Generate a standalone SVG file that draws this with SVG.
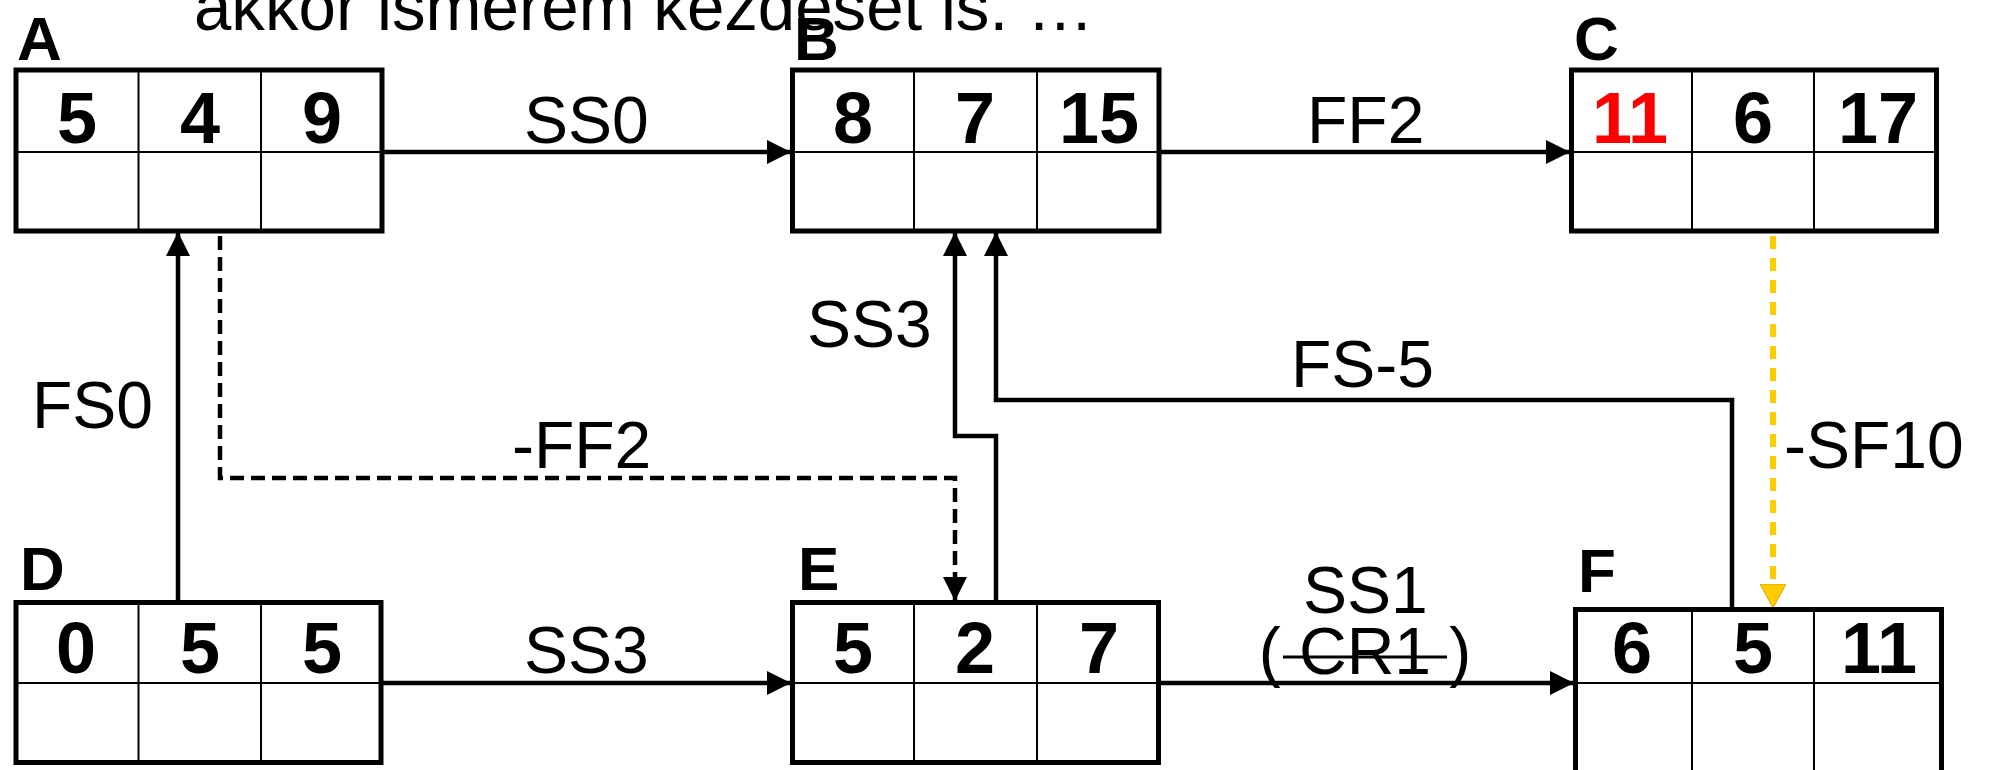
<svg xmlns="http://www.w3.org/2000/svg" width="1990" height="770" viewBox="0 0 1990 770">
<style>
.box{fill:#fff;stroke:#000;stroke-width:5}
.in{stroke:#000;stroke-width:2;fill:none}
.num{font-family:"Liberation Sans",Arial,sans-serif;font-weight:bold;font-size:72px;text-anchor:middle;fill:#000}
.id{font-family:"Liberation Sans",Arial,sans-serif;font-weight:bold;font-size:62px;fill:#000}
.lbl{font-family:"Liberation Sans",Arial,sans-serif;font-size:66px;fill:#000}
.title{font-family:"Liberation Sans",Arial,sans-serif;font-size:68px;fill:#000}
.con{fill:none;stroke:#000;stroke-width:4.5}
.dash{fill:none;stroke:#000;stroke-width:4.5;stroke-dasharray:14 7}
.ydash{fill:none;stroke:#FFCC00;stroke-width:6;stroke-dasharray:13 9}
</style>
<defs>
<marker id="ah" markerUnits="userSpaceOnUse" markerWidth="24" markerHeight="24" viewBox="0 0 24 24" refX="23" refY="12" orient="auto">
<path d="M0,0 L24,12 L0,24 Z" fill="#000"/>
</marker>
<marker id="ahy" markerUnits="userSpaceOnUse" markerWidth="24" markerHeight="26" viewBox="0 0 24 26" refX="23" refY="13" orient="auto">
<path d="M0,0 L24,13 L0,26 Z" fill="#FFCC00" stroke="#D4A800" stroke-width="1"/>
</marker>
</defs>
<rect width="1990" height="770" fill="#fff"/>
<text class="title" x="194" y="30" textLength="900" lengthAdjust="spacingAndGlyphs">akkor ismerem kezdését is. …</text>

<g id="connectors">
<line class="con" x1="384" y1="152" x2="790" y2="152" marker-end="url(#ah)"/>
<text class="lbl" x="524" y="143">SS0</text>
<line class="con" x1="1161" y1="152" x2="1569" y2="152" marker-end="url(#ah)"/>
<text class="lbl" x="1307" y="143">FF2</text>
<line class="con" x1="178" y1="600" x2="178" y2="233" marker-end="url(#ah)"/>
<text class="lbl" x="32" y="428">FS0</text>
<path class="dash" d="M220,236 L220,478 L955,478 L955,600" marker-end="url(#ah)"/>
<text class="lbl" x="512" y="468">-FF2</text>
<path class="con" d="M996,600 L996,436 L955,436 L955,233" marker-end="url(#ah)"/>
<text class="lbl" x="807" y="347">SS3</text>
<path class="con" d="M1732,607 L1732,400 L996,400 L996,233" marker-end="url(#ah)"/>
<text class="lbl" x="1291" y="387">FS-5</text>
<line class="ydash" x1="1773" y1="236" x2="1773" y2="607" marker-end="url(#ahy)"/>
<text class="lbl" x="1784" y="468">-SF10</text>
<line class="con" x1="383" y1="683" x2="790" y2="683" marker-end="url(#ah)"/>
<text class="lbl" x="524" y="673">SS3</text>
<line class="con" x1="1161" y1="683" x2="1573" y2="683" marker-end="url(#ah)"/>
<text class="lbl" x="1303" y="613">SS1</text>
<text class="lbl" x="1365" y="674" text-anchor="middle" font-size="66">( CR1 )</text>
<line x1="1283" y1="657" x2="1447" y2="657" stroke="#000" stroke-width="3"/>
</g>

<g id="node-A">
<rect class="box" x="16" y="70" width="366" height="161"/>
<line class="in" x1="16" y1="152" x2="382" y2="152"/>
<line class="in" x1="138.5" y1="70" x2="138.5" y2="231"/>
<line class="in" x1="261" y1="70" x2="261" y2="231"/>
<text class="num" x="77" y="143">5</text>
<text class="num" x="200" y="143">4</text>
<text class="num" x="322" y="143">9</text>
<text class="id" x="17" y="60">A</text>
</g>

<g id="node-B">
<rect class="box" x="792.5" y="70" width="366.5" height="161"/>
<line class="in" x1="792" y1="152" x2="1159" y2="152"/>
<line class="in" x1="914" y1="70" x2="914" y2="231"/>
<line class="in" x1="1037" y1="70" x2="1037" y2="231"/>
<text class="num" x="853" y="143">8</text>
<text class="num" x="975" y="143">7</text>
<text class="num" x="1099" y="143">15</text>
<text class="id" x="794" y="60">B</text>
</g>

<g id="node-C">
<rect class="box" x="1571.5" y="70" width="365" height="161"/>
<line class="in" x1="1571" y1="152" x2="1937" y2="152"/>
<line class="in" x1="1692" y1="70" x2="1692" y2="231"/>
<line class="in" x1="1814" y1="70" x2="1814" y2="231"/>
<text class="num" x="1630" y="143" style="fill:#FF0000">11</text>
<text class="num" x="1753" y="143">6</text>
<text class="num" x="1878" y="143">17</text>
<text class="id" x="1574" y="60">C</text>
</g>

<g id="node-D">
<rect class="box" x="16" y="602.5" width="365" height="160"/>
<line class="in" x1="16" y1="683" x2="381" y2="683"/>
<line class="in" x1="138.5" y1="602" x2="138.5" y2="763"/>
<line class="in" x1="261" y1="602" x2="261" y2="763"/>
<text class="num" x="76" y="673">0</text>
<text class="num" x="200" y="673">5</text>
<text class="num" x="322" y="673">5</text>
<text class="id" x="20" y="590">D</text>
</g>

<g id="node-E">
<rect class="box" x="792.5" y="602.5" width="366" height="160"/>
<line class="in" x1="792" y1="683" x2="1158" y2="683"/>
<line class="in" x1="914" y1="602" x2="914" y2="763"/>
<line class="in" x1="1037" y1="602" x2="1037" y2="763"/>
<text class="num" x="853" y="673">5</text>
<text class="num" x="975" y="673">2</text>
<text class="num" x="1099" y="673">7</text>
<text class="id" x="798" y="590">E</text>
</g>

<g id="node-F">
<rect class="box" x="1575.5" y="609.5" width="366" height="170"/>
<line class="in" x1="1575" y1="683" x2="1941" y2="683"/>
<line class="in" x1="1692" y1="609" x2="1692" y2="780"/>
<line class="in" x1="1814" y1="609" x2="1814" y2="780"/>
<text class="num" x="1632" y="673">6</text>
<text class="num" x="1753" y="673">5</text>
<text class="num" x="1879" y="673">11</text>
<text class="id" x="1578" y="592">F</text>
</g>
</svg>
